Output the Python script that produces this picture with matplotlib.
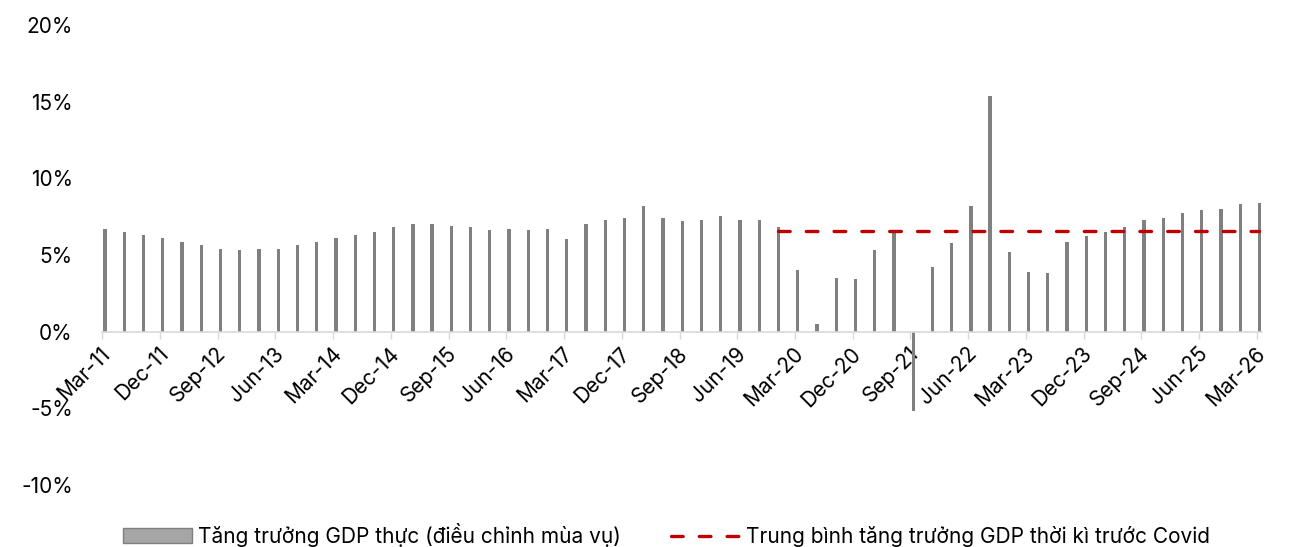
import numpy as np
import matplotlib
matplotlib.use("Agg")
import matplotlib.pyplot as plt
import matplotlib.patches as mpatches
import matplotlib.transforms as mtransforms
from matplotlib.lines import Line2D

plt.rcParams['font.family'] = ['Inter', 'DejaVu Sans']

# -------------------------------
# Dữ liệu (quý, %)
# -------------------------------
quarters = []
for y in range(11, 27):
    for m in ["Mar", "Jun", "Sep", "Dec"]:
        quarters.append(f"{m}-{y:02d}")
quarters = quarters[:61]  # Mar-11 .. Mar-26

gdp_growth = [
    6.70, 6.53, 6.33, 6.14, 5.83, 5.64, 5.42, 5.33, 5.42, 5.42,
    5.64, 5.83, 6.14, 6.33, 6.53, 6.83, 7.03, 7.03, 6.92, 6.81,
    6.64, 6.70, 6.64, 6.70, 6.03, 7.03, 7.31, 7.42, 8.20, 7.42,
    7.22, 7.31, 7.53, 7.31, 7.31, 6.81, 4.03, 0.50, 3.50, 3.42,
    5.31, 6.50, -5.15, 4.22, 5.81, 8.20, 15.40, 5.20, 3.92, 3.81,
    5.83, 6.22, 6.53, 6.83, 7.31, 7.42, 7.72, 7.92, 8.03, 8.31,
    8.42,
]

pre_covid_avg = 6.57
avg_start = "Dec-19"

label_bar = "Tăng trưởng GDP thực (điều chỉnh mùa vụ)"
label_line = "Trung bình tăng trưởng GDP thời kì trước Covid"

# -------------------------------
# Vẽ
# -------------------------------
x = np.arange(len(quarters))
fig = plt.figure(figsize=(12.92, 5.47), dpi=100)
ax = fig.add_axes([102 / 1292, 1 - 485 / 547, 1160 / 1292, 460 / 547])

# trục x nằm ở 0% (đặt trước khi chỉnh tick, set_position reset tick)
for s in ['top', 'right', 'left']:
    ax.spines[s].set_visible(False)
ax.spines['bottom'].set_position(('data', 0))
ax.spines['bottom'].set_color('#d9d9d9')
ax.spines['bottom'].set_linewidth(1.2)

ax.bar(x, gdp_growth, width=0.17, color='#808080', zorder=2)

dash_style = dict(color='#C00000', lw=2.4, dashes=(3.5, 4.84),
                  dash_capstyle='round')
i0 = quarters.index(avg_start)
ax.plot(x[i0:], [pre_covid_avg] * len(x[i0:]), zorder=3, **dash_style)

ax.set_ylim(-10, 20)
ax.set_xlim(-0.156, 60.13)
ax.set_yticks(np.arange(-10, 21, 5))
ax.set_yticklabels([f"{v}%" for v in range(-10, 21, 5)], fontsize=15)
ax.tick_params(axis='y', length=0, pad=21)

tick_idx = x[::3]
ax.set_xticks(tick_idx - 0.14)
ax.set_xticklabels([quarters[i] for i in tick_idx], rotation=45, ha='right',
                   va='center', rotation_mode='anchor', fontsize=15)
ax.tick_params(axis='x', length=5, color='#d9d9d9', width=1, pad=10)
shift = mtransforms.ScaledTranslation(5 / 100, 2 / 100, fig.dpi_scale_trans)
for lab in ax.get_xticklabels():
    lab.set_transform(lab.get_transform() + shift)

handles = [
    mpatches.Patch(facecolor='#a6a6a6', edgecolor='#7f7f7f', lw=1),
    Line2D([], [], **dash_style),
]
fig.legend(handles, [label_bar, label_line], loc='center',
           bbox_to_anchor=(0.516, 0.022), ncol=2, frameon=False,
           fontsize=15, handlelength=3.3, handletextpad=0.3,
           columnspacing=2.4)

fig.savefig("out.png", dpi=100)
